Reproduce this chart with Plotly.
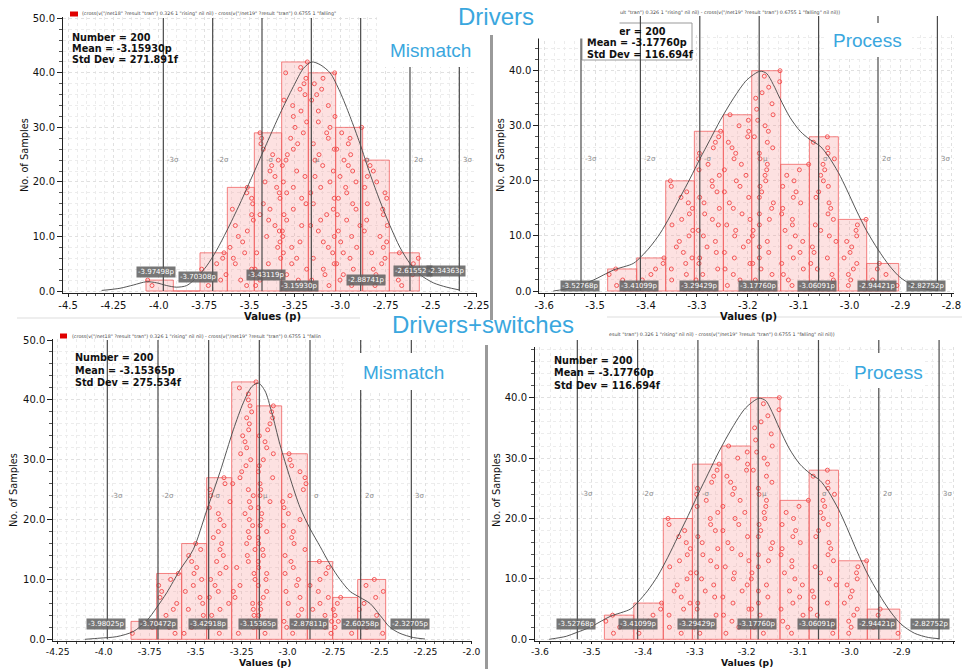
import plotly.graph_objects as go

W, H = 962, 669


def fx(px):
    return px / W


def fy(py):
    return 1 - py / H


# ====================== DATA ======================
# ---- Drivers : Mismatch ----
drv_mm_edges = [-4.0706, -3.9199, -3.7729, -3.6223, -3.4735, -3.3228, -3.1758, -3.0252, -2.8764, -2.7294, -2.5641]
drv_mm_samples = [
    [-4.0375, -4.0614],
    [],
    [-3.7270, -3.6590, -3.6296, -3.7637, -3.6811, -3.6480, -3.6406],
    [-3.5157, -3.5488, -3.4827, -3.4882, -3.5782, -3.5892, -3.5267, -3.6076, -3.5378, -3.5617,
     -3.5120, -3.5782, -3.4790, -3.4882, -3.5947, -3.4827, -3.4882, -3.5157, -3.5120],
    [-3.4661, -3.4422, -3.4606, -3.4698, -3.3963, -3.3283, -3.4606, -3.3449, -3.3320, -3.4055,
     -3.3357, -3.3596, -3.3945, -3.4422, -3.3871, -3.4239, -3.3320, -3.3357, -3.3504, -3.4147,
     -3.3596, -3.3871, -3.3779, -3.3412, -3.3724, -3.4239, -3.4367, -3.4330, -3.4422],
    [-3.3136, -3.2310, -3.2953, -3.1850, -3.2677, -3.2401, -3.3136, -3.2677, -3.2218, -3.3173,
     -3.3191, -3.2126, -3.2953, -3.3100, -3.2585, -3.1887, -3.2126, -3.2953, -3.2585, -3.3136,
     -3.1942, -3.2401, -3.3191, -3.2989, -3.2916, -3.2585, -3.2346, -3.2732, -3.2034, -3.2493,
     -3.1850, -3.2585, -3.2163, -3.2622, -3.3100, -3.1942, -3.2218, -3.1997, -3.1887, -3.3008,
     -3.2181, -3.1813],
    [-3.0619, -3.1575, -3.0840, -3.0932, -3.0325, -3.1483, -3.0417, -3.0656, -3.0932, -3.0325,
     -3.1207, -3.1630, -3.1079, -3.0748, -3.0380, -3.1483, -3.0325, -3.1630, -3.1079, -3.0564,
     -3.1391, -3.0380, -3.0968, -3.1391, -3.1170, -3.0325, -3.1483, -3.0656, -3.0748, -3.0564,
     -3.1207, -3.0289, -3.1207, -3.0656, -3.1575, -3.1299, -3.1023, -3.1428, -3.0950, -3.0307],
    [-2.9370, -3.0013, -2.9829, -2.9278, -3.0197, -2.9462, -2.9829, -2.9094, -2.9976, -2.9370,
     -3.0105, -2.8911, -2.9646, -3.0160, -2.9131, -2.9315, -3.0105, -2.9646, -2.9701, -2.9131,
     -3.0013, -2.9315, -2.9554, -2.9793, -2.9425, -3.0197, -2.9554, -2.9462, -2.9921, -2.8819],
    [-2.8084, -2.8635, -2.8029, -2.8176, -2.7717, -2.7533, -2.8268, -2.7625, -2.7441, -2.7808,
     -2.8672, -2.7404, -2.8543, -2.7625, -2.7661, -2.8506, -2.7441, -2.7533, -2.8653, -2.7992,
     -2.8506, -2.8176, -2.8359, -2.8543],
    [-2.6614, -2.6798, -2.6008, -2.6486, -2.5971, -2.5695, -2.6743],
]
drv_mm_curve_x = [-4.315, -4.214, -4.140, -4.067, -4.012, -3.957, -3.902, -3.846, -3.791, -3.736,
                  -3.681, -3.626, -3.553, -3.479, -3.406, -3.332, -3.258, -3.203, -3.157, -3.111,
                  -3.056, -3.001, -2.946, -2.891, -2.836, -2.781, -2.726, -2.671, -2.615, -2.560,
                  -2.487, -2.413, -2.344]
drv_mm_curve_y = [0.1, 0.5, 1.1, 1.7, 1.5, 1.0, 0.7, 1.0, 2.5, 4.6,
                  7.5, 11.0, 16.0, 21.5, 27.0, 32.5, 37.5, 40.8, 42.0, 41.5,
                  40.0, 36.5, 32.0, 27.0, 21.5, 16.5, 12.0, 8.0, 5.0, 3.0,
                  1.5, 0.7, 0.2]
drv_mm_mean = -3.15930
drv_mm_std = 0.271891
drv_mm_stats = ["Number = 200", "Mean = -3.15930p", "Std Dev = 271.891f"]
drv_mm_marks = ["-3.97498p", "-3.70308p", "-3.43119p", "-3.15930p", "-2.88741p", "-2.61552p", "-2.34363p"]

# ---- Process (identical results shown for Drivers and Drivers+switches) ----
proc_edges = [-3.4753, -3.4183, -3.3613, -3.3050, -3.2480, -3.1923, -3.1354, -3.0790, -3.0221, -2.9664, -2.9035]
proc_samples = [
    [-3.4577, -3.4458, -3.4725, -3.4594],
    [-3.4084, -3.4073, -3.3903, -3.3812, -3.3664, -3.3647],
    [-3.3266, -3.3495, -3.3207, -3.3502, -3.3220, -3.3096, -3.3266, -3.3403, -3.3344, -3.3154,
     -3.3082, -3.3489, -3.3299, -3.3148, -3.3089, -3.3168, -3.3312, -3.3200, -3.3502, -3.3521],
    [-3.2906, -3.3017, -3.2886, -3.2591, -3.2958, -3.2945, -3.2618, -3.2801, -3.2637, -3.2873,
     -3.2971, -3.2578, -3.2696, -3.2847, -3.2559, -3.2860, -3.2945, -3.2605, -3.2696, -3.2703,
     -3.2559, -3.2958, -3.2781, -3.2965, -3.2951, -3.2677, -3.2637, -3.2572, -3.2533],
    [-3.2401, -3.2153, -3.2284, -3.2447, -3.1956, -3.2264, -3.2460, -3.2087, -3.1989, -3.2257,
     -3.2238, -3.2414, -3.1956, -3.2113, -3.2284, -3.2362, -3.1982, -3.2460, -3.2153, -3.2225,
     -3.2035, -3.2460, -3.2126, -3.2270, -3.2238, -3.2310, -3.2382, -3.2002, -3.1982, -3.2172,
     -3.1989, -3.2349],
    [-3.1675, -3.1851, -3.1524, -3.1740, -3.1904, -3.1773, -3.1589, -3.1773, -3.1616, -3.1910,
     -3.1897, -3.1773, -3.1576, -3.1773, -3.1531, -3.1498, -3.1773, -3.1727, -3.1760, -3.1648,
     -3.1661, -3.1629, -3.1616, -3.1760, -3.1773, -3.1511, -3.1616, -3.1871, -3.1596, -3.1661,
     -3.1805, -3.1504, -3.1825, -3.1524, -3.1845, -3.1720, -3.1589, -3.1373, -3.1675, -3.1367],
    [-3.1131, -3.1203, -3.1301, -3.0909, -3.1334, -3.1105, -3.0974, -3.1170, -3.0921, -3.1066,
     -3.1268, -3.1124, -3.1124, -3.1334, -3.1314, -3.0961, -3.1105, -3.1052, -3.1314, -3.1092,
     -3.1235, -3.0987, -3.0804],
    [-3.0332, -3.0319, -3.0345, -3.0633, -3.0764, -3.0437, -3.0699, -3.0731, -3.0267, -3.0398,
     -3.0568, -3.0673, -3.0319, -3.0424, -3.0371, -3.0404, -3.0660, -3.0607, -3.0417, -3.0515,
     -3.0568, -3.0489, -3.0522, -3.0299, -3.0424, -3.0430, -3.0712, -3.0437],
    [-3.0024, -2.9978, -3.0024, -2.9926, -2.9860, -3.0109, -2.9991, -2.9958, -3.0057, -2.9860,
     -2.9873, -2.9847, -2.9677],
    [-2.9070, -2.9547, -2.9285, -2.9455, -2.9416],
]
proc_curve_x = [-3.582, -3.549, -3.530, -3.503, -3.464, -3.425, -3.410, -3.392, -3.372, -3.353,
                -3.333, -3.313, -3.294, -3.274, -3.254, -3.228, -3.202, -3.176, -3.163, -3.150,
                -3.137, -3.117, -3.097, -3.078, -3.058, -3.042, -3.022, -3.006, -2.986, -2.967,
                -2.944, -2.921, -2.901, -2.875, -2.848, -2.827]
proc_curve_y = [0.0, 0.5, 1.1, 2.0, 3.8, 5.0, 6.2, 8.0, 10.5, 13.5,
                17.0, 20.5, 24.0, 27.5, 31.0, 35.0, 38.3, 39.9, 39.5, 37.5,
                35.0, 31.5, 29.0, 27.5, 26.3, 24.5, 21.5, 18.5, 14.5, 11.0,
                7.5, 4.5, 2.5, 1.0, 0.3, 0.1]
proc_mean = -3.17760
proc_std = 0.116694
proc_stats = ["Number = 200", "Mean = -3.17760p", "Std Dev = 116.694f"]
proc_marks = ["-3.52768p", "-3.41099p", "-3.29429p", "-3.17760p", "-3.06091p", "-2.94421p", "-2.82752p"]

# ---- Drivers+switches : Mismatch ----
sw_mm_edges = [-3.8515, -3.7119, -3.5760, -3.4400, -3.3041, -3.1682, -3.0322, -2.8926, -2.7549, -2.6189, -2.4667]
sw_mm_samples = [
    [-3.8443, -3.7355, -3.7264],
    [-3.6122, -3.6431, -3.7029, -3.6612, -3.6213, -3.6032, -3.6938, -3.6847, -3.7010, -3.6358, -3.5941],
    [-3.5633, -3.5216, -3.4763, -3.4582, -3.5397, -3.4618, -3.4763, -3.5560, -3.5126, -3.4672,
     -3.5089, -3.4945, -3.5216, -3.5379, -3.4727, -3.4999],
    [-3.3712, -3.4310, -3.4038, -3.4129, -3.3675, -3.3205, -3.4255, -3.3766, -3.3947, -3.4183,
     -3.3675, -3.3349, -3.3857, -3.3494, -3.3675, -3.3585, -3.4038, -3.3766, -3.3458, -3.3675,
     -3.3766, -3.4255, -3.3132, -3.4183, -3.4219, -3.3404, -3.3458],
    [-3.2678, -3.1862, -3.2134, -3.1826, -3.1862, -3.1899, -3.2860, -3.2950, -3.2588, -3.1772,
     -3.1826, -3.2769, -3.2134, -3.2189, -3.1772, -3.2225, -3.2080, -3.2134, -3.1899, -3.2080,
     -3.2316, -3.2008, -3.2080, -3.1862, -3.2134, -3.2986, -3.2588, -3.2497, -3.2262, -3.2008,
     -3.2551, -3.2225, -3.2316, -3.2443, -3.2116, -3.2080, -3.2225, -3.1954, -3.2044, -3.2134,
     -3.2134, -3.2624, -3.1718],
    [-3.1228, -3.1537, -3.1138, -3.1573, -3.1464, -3.1500, -3.1319, -3.1138, -3.1591, -3.1174,
     -3.1138, -3.1573, -3.1591, -3.1319, -3.1355, -3.1573, -3.1591, -3.1138, -3.1500, -3.1446,
     -3.1410, -3.1591, -3.0957, -3.1500, -3.1464, -3.1500, -3.0812, -3.1591, -3.1537, -3.1319,
     -3.0775, -3.1138, -3.1228, -3.1537, -3.1083, -3.0957, -3.0812, -3.0866, -3.0775],
    [-2.9724, -3.0050, -3.0195, -2.9416, -2.9234, -2.9960, -2.9325, -3.0087, -2.9506, -2.9416,
     -3.0141, -2.9688, -2.9815, -3.0141, -2.9053, -2.9651, -2.9778, -2.9688, -3.0231, -2.9325,
     -2.9960, -3.0195, -3.0268, -2.9869, -2.9144, -2.8999, -2.9053, -2.9325, -2.9778, -2.9869,
     -2.9923],
    [-2.7640, -2.7966, -2.7603, -2.7966, -2.8636, -2.8238, -2.7785, -2.8328, -2.8781, -2.8238,
     -2.7911, -2.7785, -2.8274],
    [-2.6516, -2.7422, -2.7240, -2.7422, -2.7512, -2.7295, -2.7114],
    [-2.4830, -2.5700, -2.6063, -2.5156, -2.6099, -2.5845, -2.5211, -2.4794, -2.5736, -2.5284],
]
sw_mm_curve_x = [-4.102, -4.020, -3.929, -3.839, -3.766, -3.712, -3.657, -3.585, -3.513, -3.440,
                 -3.367, -3.295, -3.241, -3.195, -3.159, -3.123, -3.087, -3.041, -2.987, -2.932,
                 -2.878, -2.823, -2.769, -2.715, -2.660, -2.606, -2.552, -2.497, -2.443, -2.389,
                 -2.316, -2.253]
sw_mm_curve_y = [0.0, 0.2, 0.45, 1.3, 3.1, 5.3, 7.8, 11.6, 15.0, 21.5,
                 28.0, 35.0, 39.5, 42.2, 42.8, 41.5, 38.0, 32.5, 27.0, 22.0,
                 18.5, 15.5, 12.5, 10.0, 8.0, 7.0, 6.0, 4.0, 2.0, 1.0,
                 0.3, 0.05]
sw_mm_mean = -3.15365
sw_mm_std = 0.275534
sw_mm_stats = ["Number = 200", "Mean = -3.15365p", "Std Dev = 275.534f"]
sw_mm_marks = ["-3.98025p", "-3.70472p", "-3.42918p", "-3.15365p", "-2.87811p", "-2.60258p", "-2.32705p"]

sigma_k = [-3, -2, -1, 0, 1, 2, 3]
sigma_names = ["-3\u03c3", "-2\u03c3", "-\u03c3", "\u03bc", "\u03c3", "2\u03c3", "3\u03c3"]

xt_wide_a = [-4.5, -4.25, -4.0, -3.75, -3.5, -3.25, -3.0, -2.75, -2.5, -2.25]
xt_wide_a_text = ["-4.5", "-4.25", "-4.0", "-3.75", "-3.5", "-3.25", "-3.0", "-2.75", "-2.5", "-2.25"]
xt_wide_b = [-4.25, -4.0, -3.75, -3.5, -3.25, -3.0, -2.75, -2.5, -2.25, -2.0]
xt_wide_b_text = ["-4.25", "-4.0", "-3.75", "-3.5", "-3.25", "-3.0", "-2.75", "-2.5", "-2.25", "-2.0"]
xt_proc = [-3.6, -3.5, -3.4, -3.3, -3.2, -3.1, -3.0, -2.9, -2.8]
xt_proc_text = ["-3.6", "-3.5", "-3.4", "-3.3", "-3.2", "-3.1", "-3.0", "-2.9", "-2.8"]
yt_50 = [0, 10, 20, 30, 40, 50]
yt_50_text = ["0.0", "10.0", "20.0", "30.0", "40.0", "50.0"]
yt_40 = [0, 10, 20, 30, 40]
yt_40_text = ["0.0", "10.0", "20.0", "30.0", "40.0"]

legend_full = '(cross(v("/net18" ?result "tran") 0.326 1 "rising" nil nil) - cross(v("/net19" ?result "tran") 0.6755 1 "falling"'
legend_tr = 'ult "tran") 0.326 1 "rising" nil nil) - cross(v("/net19" ?result "tran") 0.6755 1 "falling" nil nil))'
legend_bl = '(cross(v("/net18" ?result "tran") 0.326 1 "rising" nil nil) - cross(v("/net19" ?result "tran") 0.6755 1 "fallin'
legend_br = 'esult "tran") 0.326 1 "rising" nil nil) - cross(v("/net19" ?result "tran") 0.6755 1 "falling" nil nil))'

# ====================== STYLE / LAYOUT ======================
BLUE = "#3aa7de"
TICKFONT = dict(family="DejaVu Sans", size=10, color="#111111")
TICKFONT_LOW = dict(family="DejaVu Sans", size=9.2, color="#111111")
GRID = "#e0e0e0"
MINOR_GRID = "#ececec"

panels = [
    dict(edges=drv_mm_edges, samples=drv_mm_samples, cx=drv_mm_curve_x, cy=drv_mm_curve_y,
         mean=drv_mm_mean, std=drv_mm_std, stats=drv_mm_stats, marks=drv_mm_marks,
         xpx=(63, 477), ypx=(293, 17), xr=(-4.528, -2.2462), yr=(-0.367, 50.24),
         zero_px=291, top_px=18, xt=xt_wide_a, xtt=xt_wide_a_text, yt=yt_50, ytt=yt_50_text,
         xminor=0.05, mark_y=[3.4, 2.6, 2.9, 0.9, 2.1, 3.7, 3.7], mark_dx=[-7, -15, 4, -12, 5, 3, -13],
         stats_x=70, stats_y=[37.3, 48.3, 59.3], ytitle=(24, 155), xtitle=(272, 316.5)),
    dict(edges=proc_edges, samples=proc_samples, cx=proc_curve_x, cy=proc_curve_y,
         mean=proc_mean, std=proc_std, stats=proc_stats, marks=proc_marks,
         xpx=(539.3, 954), ypx=(293.3, 35), xr=(-3.6096, -2.7949), yr=(-0.418, 46.48),
         zero_px=291, top_px=16, xt=xt_proc, xtt=xt_proc_text, yt=yt_40, ytt=yt_40_text,
         xminor=0.02, mark_y=[0.9] * 7, mark_dx=[-1, -1, -1, -1, -2, -1, -11],
         stats_x=585, stats_y=[31.5, 42.7, 54], ytitle=(500, 155), xtitle=(748, 316.5)),
    dict(edges=sw_mm_edges, samples=sw_mm_samples, cx=sw_mm_curve_x, cy=sw_mm_curve_y,
         mean=sw_mm_mean, std=sw_mm_std, stats=sw_mm_stats, marks=sw_mm_marks,
         xpx=(53.3, 472), ypx=(640.7, 339.3), xr=(-4.274, -1.9972), yr=(-0.23, 50.12),
         zero_px=639.3, top_px=340, xt=xt_wide_b, xtt=xt_wide_b_text, yt=yt_50, ytt=yt_50_text,
         xminor=0.05, mark_y=[2.6] * 7, mark_dx=[-1, 0, -1, -1, -1, 0, -1],
         stats_x=72.7, stats_y=[357.7, 370.3, 382.7], ytitle=(13, 490), xtitle=(265, 669)),
    dict(edges=proc_edges, samples=proc_samples, cx=proc_curve_x, cy=proc_curve_y,
         mean=proc_mean, std=proc_std, stats=proc_stats, marks=proc_marks,
         xpx=(535, 955), ypx=(640.7, 346.7), xr=(-3.6096, -2.7967), yr=(-0.23, 48.44),
         zero_px=639.3, top_px=340, xt=xt_proc, xtt=xt_proc_text, yt=yt_40, ytt=yt_40_text,
         xminor=0.02, mark_y=[2.6] * 7, mark_dx=[-1, 0, -1, -1, -1, -2, -9],
         stats_x=551.7, stats_y=[360, 372.3, 385], ytitle=(496, 490), xtitle=(747, 669)),
]

fig = go.Figure()
layout = dict(width=W, height=H, margin=dict(l=0, r=0, t=0, b=0, pad=0, autoexpand=False), autosize=False,
              paper_bgcolor="white", plot_bgcolor="white", showlegend=False,
              font=dict(family="DejaVu Sans", color="#111111"))
shapes_lines = []
annotations = []


def paper_text(x, y, text, font, xanchor="center", yanchor="middle", **kw):
    d = dict(x=fx(x), y=fy(y), xref="paper", yref="paper", text=text, showarrow=False,
             xanchor=xanchor, yanchor=yanchor, font=font)
    d.update(kw)
    return d


for i, p in enumerate(panels, start=1):
    xid = "x" if i == 1 else f"x{i}"
    yid = "y" if i == 1 else f"y{i}"
    xa = "xaxis" if i == 1 else f"xaxis{i}"
    ya = "yaxis" if i == 1 else f"yaxis{i}"
    lower = i > 2

    edges = p["edges"]
    samples = p["samples"]
    centers = [(edges[k] + edges[k + 1]) / 2 for k in range(len(samples))]
    widths = [edges[k + 1] - edges[k] for k in range(len(samples))]
    counts = [len(b) for b in samples]

    fig.add_trace(go.Bar(x=centers, y=counts, width=widths, xaxis=xid, yaxis=yid,
                         marker=dict(color="rgba(248,140,140,0.26)",
                                     line=dict(color="rgba(240,90,90,0.75)", width=1)),
                         hoverinfo="skip"))
    cxs = [v for b in samples for v in b]
    cys = [r + 1 for b in samples for r in range(len(b))]
    fig.add_trace(go.Scatter(x=cxs, y=cys, mode="markers", xaxis=xid, yaxis=yid,
                             marker=dict(symbol="circle-open", size=4, color="#f24848",
                                         line=dict(width=0.9)),
                             hoverinfo="skip"))
    fig.add_trace(go.Scatter(x=p["cx"], y=p["cy"], mode="lines", xaxis=xid, yaxis=yid,
                             line=dict(color="#444444", width=0.9, shape="spline", smoothing=0.8),
                             hoverinfo="skip"))

    layout[xa] = dict(domain=[fx(p["xpx"][0]), fx(p["xpx"][1])], range=list(p["xr"]), anchor=yid,
                      showline=True, linecolor="#222222", linewidth=1, ticks="outside",
                      ticklen=2 if lower else 3,
                      tickcolor="#222222", tickmode="array", tickvals=p["xt"], ticktext=p["xtt"],
                      tickfont=TICKFONT_LOW if lower else TICKFONT,
                      showgrid=True, gridcolor=GRID, griddash="dot", gridwidth=1,
                      zeroline=False, automargin=False,
                      minor=dict(tickmode="linear", tick0=p["xt"][0], dtick=p["xminor"], ticks="outside",
                                 ticklen=2, tickcolor="#555555", showgrid=True, gridcolor=MINOR_GRID,
                                 griddash="dot"))
    layout[ya] = dict(domain=[fy(p["ypx"][0]), fy(p["ypx"][1])], range=list(p["yr"]), anchor=xid,
                      showline=True, linecolor="#222222", linewidth=1, ticks="outside", ticklen=5,
                      tickcolor="#222222", tickmode="array", tickvals=p["yt"], ticktext=p["ytt"],
                      tickfont=TICKFONT, showgrid=True, gridcolor=GRID, griddash="dot", gridwidth=1,
                      zeroline=False, automargin=False,
                      minor=dict(tickmode="linear", tick0=0, dtick=2, ticks="outside", ticklen=3,
                                 tickcolor="#555555", showgrid=True, gridcolor=MINOR_GRID, griddash="dot"))

    # sigma lines, sigma labels, value boxes
    for k, name, mark, my, mdx in zip(sigma_k, sigma_names, p["marks"], p["mark_y"], p["mark_dx"]):
        xv = p["mean"] + k * p["std"]
        shapes_lines.append(dict(type="line", xref=xid, yref="paper", x0=xv, x1=xv,
                                 y0=fy(p["zero_px"]), y1=fy(p["top_px"]),
                                 line=dict(color="#4a4a4a", width=1.2), layer="above"))
        annotations.append(dict(x=xv, y=24, xref=xid, yref=yid, text=name, showarrow=False,
                                xanchor="left", yanchor="middle", xshift=2,
                                font=dict(family="DejaVu Sans", size=7, color="#8a8a8a")))
        annotations.append(dict(x=xv, y=my, xref=xid, yref=yid, text=mark, showarrow=False,
                                xanchor="center", yanchor="middle", xshift=mdx,
                                bgcolor="rgba(95,95,95,0.85)", borderpad=1,
                                font=dict(family="DejaVu Sans", size=7, color="white")))

    # axis titles
    annotations.append(paper_text(p["ytitle"][0], p["ytitle"][1], "No. of Samples",
                                  dict(family="DejaVu Sans", size=9.8, color="#111111"), textangle=-90))
    if not lower:
        annotations.append(paper_text(p["xtitle"][0], p["xtitle"][1], "<b>Values (p)</b>",
                                      dict(family="DejaVu Sans", size=10, color="#111111")))
    else:
        annotations.append(paper_text(p["xtitle"][0], p["xtitle"][1], "<b>Values (p)</b>",
                                      dict(family="DejaVu Sans", size=9.2, color="#111111"),
                                      yanchor="bottom", borderpad=0))
    # stats text
    for s, sy in zip(p["stats"], p["stats_y"]):
        annotations.append(paper_text(p["stats_x"], sy, "<b>" + s + "</b>",
                                      dict(family="DejaVu Sans", size=9.7, color="#111111"),
                                      xanchor="left"))

# white label boxes hiding grid / lines, separators
covers = [
    dict(type="rect", xref="paper", yref="paper", x0=fx(377), x1=fx(490), y0=fy(67), y1=fy(0),
         fillcolor="white", line=dict(width=0), layer="above"),
    dict(type="rect", xref="paper", yref="paper", x0=fx(825), x1=fx(912), y0=fy(57), y1=fy(23),
         fillcolor="white", line=dict(width=0), layer="above"),
    dict(type="rect", xref="paper", yref="paper", x0=fx(347), x1=fx(470), y0=fy(390), y1=fy(353),
         fillcolor="white", line=dict(width=0), layer="above"),
    dict(type="rect", xref="paper", yref="paper", x0=fx(848), x1=fx(923), y0=fy(388), y1=fy(353),
         fillcolor="white", line=dict(width=0), layer="above"),
    dict(type="rect", xref="paper", yref="paper", x0=fx(361), x1=fx(606), y0=fy(340), y1=fy(313),
         fillcolor="white", line=dict(width=0), layer="above"),
    dict(type="rect", xref="paper", yref="paper", x0=fx(490), x1=fx(493), y0=fy(320), y1=fy(35),
         fillcolor="#9a9a9a", line=dict(width=0), layer="above"),
    dict(type="rect", xref="paper", yref="paper", x0=fx(485), x1=fx(488), y0=fy(669), y1=fy(345),
         fillcolor="#9a9a9a", line=dict(width=0), layer="above"),
    dict(type="line", xref="paper", yref="paper", x0=fx(17), x1=fx(360), y0=fy(318), y1=fy(318),
         line=dict(color="#dddddd", width=1), layer="above"),
    dict(type="line", xref="paper", yref="paper", x0=fx(607), x1=fx(962), y0=fy(317), y1=fy(317),
         line=dict(color="#dddddd", width=1), layer="above"),
    # legend colour keys
    dict(type="rect", xref="paper", yref="paper", x0=fx(70), x1=fx(78), y0=fy(16.5), y1=fy(11.5),
         fillcolor="#e00000", line=dict(width=0), layer="above"),
    dict(type="rect", xref="paper", yref="paper", x0=fx(60), x1=fx(67), y0=fy(338.5), y1=fy(333.5),
         fillcolor="#e00000", line=dict(width=0), layer="above"),
]
stats_box = [dict(type="rect", xref="paper", yref="paper", x0=fx(582), x1=fx(692), y0=fy(60), y1=fy(23),
                  fillcolor="white", line=dict(color="#999999", width=1), layer="above")]

layout["shapes"] = stats_box + shapes_lines + covers

LEG = dict(family="DejaVu Sans", size=4.8, color="#444444")
annotations += [
    paper_text(80, 14, legend_full, LEG, xanchor="left"),
    paper_text(618, 12, legend_tr, LEG, xanchor="left"),
    paper_text(70, 336, legend_bl, LEG, xanchor="left"),
    paper_text(607, 334, legend_br, LEG, xanchor="left"),
    # white cover over the clipped part of the process stats box
    paper_text(493, 0, " ", dict(size=8), xanchor="left", yanchor="top",
               width=125, height=37, borderpad=0, bgcolor="white"),
    # titles
    paper_text(496, 16, "Drivers", dict(family="Liberation Sans", size=24, color=BLUE)),
    paper_text(483, 325, "Drivers+switches", dict(family="Liberation Sans", size=24, color=BLUE)),
    paper_text(430.5, 50, "Mismatch", dict(family="Liberation Sans", size=19, color=BLUE)),
    paper_text(867, 41, "Process", dict(family="Liberation Sans", size=19, color=BLUE)),
    paper_text(403.7, 372.7, "Mismatch", dict(family="Liberation Sans", size=19, color=BLUE)),
    paper_text(888.3, 372.7, "Process", dict(family="Liberation Sans", size=19, color=BLUE)),
]
layout["annotations"] = annotations

fig.update_layout(**layout)
fig.write_html(
    "out.html",
    config={"displayModeBar": False, "responsive": False},
    post_script=("document.documentElement.style.margin='0px';"
                 "document.body.style.margin='0px';document.body.style.padding='0px';"
                 "document.body.style.overflow='hidden';"),
)
